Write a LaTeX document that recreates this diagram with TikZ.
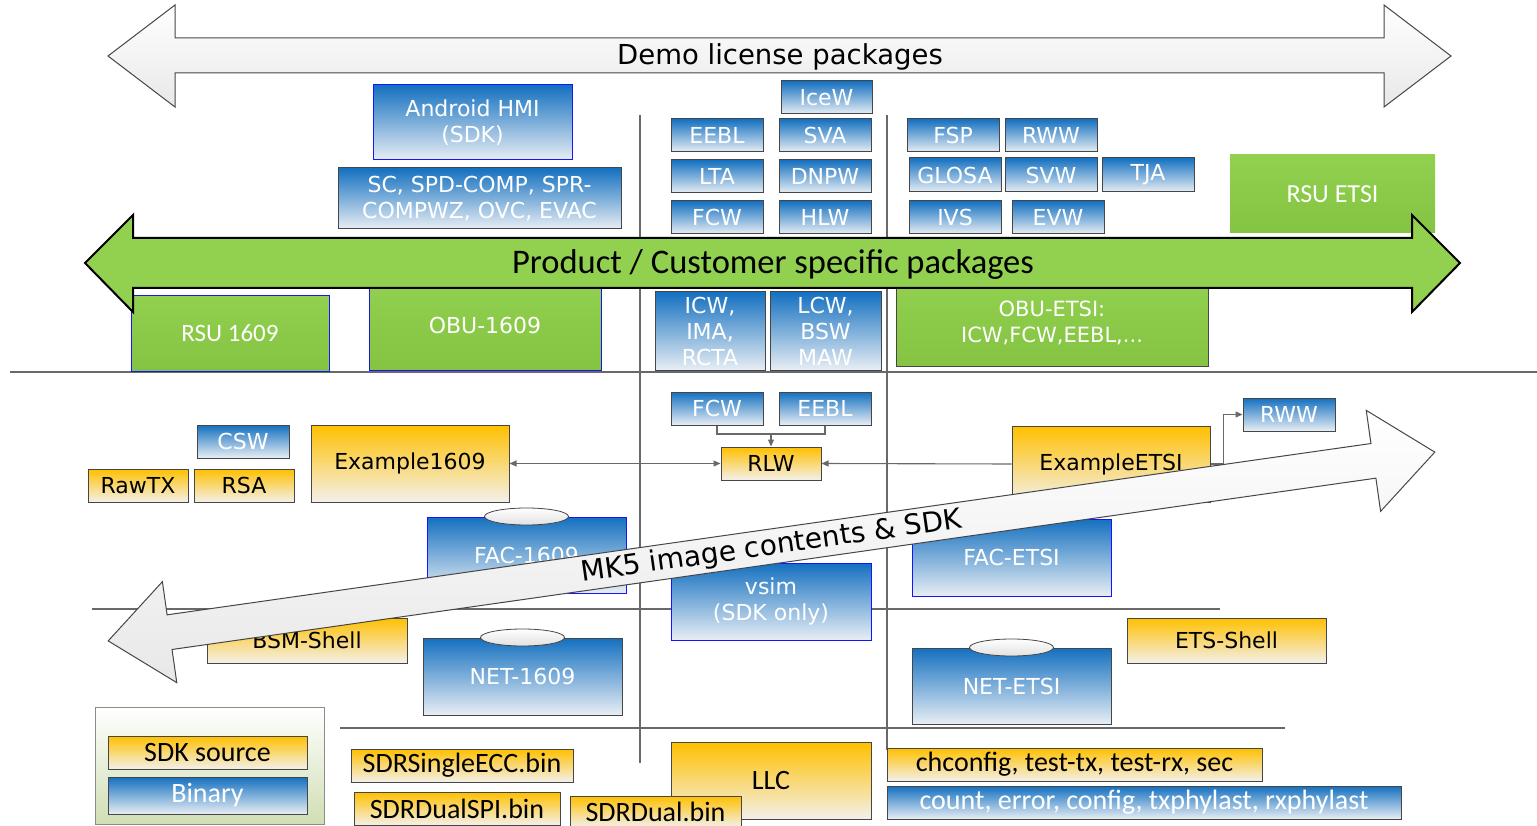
\documentclass[tikz,border=0pt]{standalone}
\usepackage{fontspec}
\setmainfont{DejaVu Sans}
\newfontfamily\calfont{Carlito}
\usetikzlibrary{arrows.meta,shapes.geometric}
\definecolor{bluetop}{RGB}{20,112,192}
\definecolor{bluebot}{RGB}{232,238,244}
\definecolor{orgtop}{RGB}{255,192,0}
\definecolor{orgbot}{RGB}{243,240,234}
\definecolor{grn}{RGB}{146,208,80}
\definecolor{grnbot}{RGB}{132,196,66}
\definecolor{edgec}{RGB}{70,70,70}
\definecolor{bedge}{RGB}{20,20,255}
\definecolor{linec}{RGB}{105,105,105}
\definecolor{legbot}{RGB}{208,222,180}
\newcommand\vfont{\fontsize{22}{26}\selectfont}
\newcommand\cfont{\calfont\fontsize{28}{32}\selectfont}
\begin{document}
\begin{tikzpicture}[x=1pt,y=-1pt,
  pbox/.style={draw=edgec, line width=1pt, inner sep=0pt, align=center, font=\vfont},
  bluebox/.style={pbox, top color=bluetop, bottom color=bluebot, text=white},
  orgbox/.style={pbox, top color=orgtop, bottom color=orgbot, text=black},
  grnbox/.style={pbox, top color=grn, bottom color=grnbot, text=white},
  blueedge/.style={draw=bedge},
  calib/.style={font=\cfont},
  sz/.style 2 args={minimum width=#1pt, minimum height=#2pt},
  divline/.style={draw=linec, line width=1.1pt},
  conn/.style={draw=linec, line width=1.1pt},
  arr/.style={-{Triangle[length=7pt,width=6pt]}},
  lid/.style={ellipse, draw=edgec, line width=0.8pt, top color=white, bottom color=black!12, minimum width=84pt, minimum height=17pt, inner sep=0pt},
  bigarrow/.style={draw=edgec, line width=1pt, top color=white, bottom color=black!9},
]
\useasboundingbox (0,0) rectangle (1537,826);
\clip (0,0) rectangle (1537,826);

% separator lines
\draw[divline] (640,115) -- (640,763);
\draw[divline] (887,115) -- (887,750);
\draw[divline] (10,372) -- (1537,372);
\draw[divline] (92,609) -- (1220,609);
\draw[divline] (340,728) -- (1285,728);

% top arrow
\shade[bigarrow] (108,56) -- (175,5) -- (175,38) -- (1384,38) -- (1384,5) -- (1451,56)
  -- (1384,107) -- (1384,73) -- (175,73) -- (175,107) -- cycle;
\node[font=\fontsize{27.5}{32}\selectfont] (demot) at (780,57) {Demo license packages};

% top section boxes
\node[bluebox, blueedge, sz={199}{75}] (android) at (472.5,122.5) {Android HMI\\(SDK)};
\node[bluebox, sz={283}{61}] (scbox) at (479.5,198.5) {SC, SPD-COMP, SPR-\\COMPWZ, OVC, EVAC};
\node[bluebox, sz={91}{33}] (icew) at (826.5,97.5) {IceW};
\node[bluebox, sz={92}{33}] (eebl) at (717,135.5) {EEBL};
\node[bluebox, sz={92}{33}] (sva) at (825,135.5) {SVA};
\node[bluebox, sz={92}{33}] (lta) at (717,176.5) {LTA};
\node[bluebox, sz={92}{33}] (dnpw) at (825,176.5) {DNPW};
\node[bluebox, sz={92}{33}] (fcw) at (717,217.5) {FCW};
\node[bluebox, sz={92}{33}] (hlw) at (825,217.5) {HLW};
\node[bluebox, sz={92}{33}] (fsp) at (953,135.5) {FSP};
\node[bluebox, sz={92}{33}] (rww) at (1051,135.5) {RWW};
\node[bluebox, sz={92}{34}] (glosa) at (955,175) {GLOSA};
\node[bluebox, sz={92}{34}] (svw) at (1051,175) {SVW};
\node[bluebox, sz={92}{34}] (tja) at (1148,175) {TJA};
\node[bluebox, sz={92}{33}] (ivs) at (955,217.5) {IVS};
\node[bluebox, sz={92}{33}] (evw) at (1058,217.5) {EVW};
\node[grnbox, draw=none, fill=grn, font=\calfont\fontsize{26}{30}\selectfont, sz={205}{78}] (rsuetsi) at (1332.5,194) {RSU ETSI};

% under green arrow
\node[grnbox, blueedge, font=\calfont\fontsize{25}{28}\selectfont, sz={198}{75}] (rsu1609) at (230,333.5) {RSU 1609};
\node[grnbox, blueedge, sz={232}{90}] (obu1609) at (485,325) {OBU-1609};
\node[bluebox, sz={110}{78}] (icw) at (710,331) {ICW,\\IMA,\\RCTA};
\node[bluebox, sz={111}{78}] (lcw) at (825.5,331) {LCW,\\BSW\\MAW};
\node[grnbox, font=\fontsize{21}{26}\selectfont, sz={312}{86}] (obuetsi) at (1052,323) {OBU-ETSI:\\ICW,FCW,EEBL,...};

% middle section
\node[bluebox, sz={92}{33}] (csw) at (243,441.5) {CSW};
\node[orgbox, sz={100}{33}] (rawtx) at (138,485.5) {RawTX};
\node[orgbox, sz={100}{33}] (rsa) at (244,485.5) {RSA};
\node[orgbox, sz={198}{77}] (ex1609) at (410,463.5) {Example1609};
\node[bluebox, sz={92}{33}] (fcwb) at (717,408.5) {FCW};
\node[bluebox, sz={92}{33}] (eeblb) at (825,408.5) {EEBL};
\node[orgbox, sz={100}{33}] (rlw) at (771,463.5) {RLW};
\node[orgbox, sz={198}{76}] (exetsi) at (1111,464) {ExampleETSI};
\node[bluebox, sz={92}{33}] (rwwb) at (1289,414.5) {RWW};
\node[bluebox, blueedge, sz={199}{76}] (fac1609) at (526.5,555) {FAC-1609};
\node[lid] (fac1609lid) at (fac1609.north) {};
\node[bluebox, blueedge, sz={199}{77}] (facetsi) at (1011.5,557.5) {FAC-ETSI};
\node[bluebox, blueedge, sz={200}{77}] (vsim) at (771,601.5) {vsim\\(SDK only)};
\node[orgbox, sz={200}{45}] (bsm) at (307,640.5) {BSM-Shell};
\node[bluebox, sz={199}{77}] (net1609) at (522.5,676.5) {NET-1609};
\node[lid] (net1609lid) at (net1609.north) {};
\node[bluebox, sz={199}{76}] (netetsi) at (1011.5,686) {NET-ETSI};
\node[lid] (netetsilid) at (netetsi.north) {};
\node[orgbox, sz={199}{45}] (etsshell) at (1226.5,640.5) {ETS-Shell};

% connectors
\coordinate (rlwjoin) at (771,434);
\draw[conn] (fcwb.south) |- (rlwjoin);
\draw[conn] (eeblb.south) |- (rlwjoin);
\draw[conn, arr] (rlwjoin) -- (rlw.north);
\draw[conn, {Triangle[length=7pt,width=6pt]}-{Triangle[length=7pt,width=6pt]}] (ex1609.east) -- (rlw.west);
\draw[conn, arr] (exetsi.west) -- (rlw.east);
\draw[conn, arr] (exetsi.east) -- ++(13,0) |- (rwwb.west);

% bottom section
\node[pbox, top color=white, bottom color=legbot, draw=black!45, sz={229}{117}] (legend) at (209.5,765.5) {};
\node[orgbox, calib, sz={199}{33}] (sdksrc) at (207.5,752.5) {SDK source};
\node[bluebox, calib, sz={199}{37}] (binary) at (207.5,795.5) {Binary};
\node[orgbox, calib, sz={222}{33}] (sdrsingle) at (462,765.5) {SDRSingleECC.bin};
\node[orgbox, calib, sz={206}{33}] (sdrdualspi) at (457,808.5) {SDRDualSPI.bin};
\node[orgbox, calib, sz={200}{77}] (llc) at (771,780.5) {LLC};
\node[orgbox, calib, sz={171}{31}] (sdrdual) at (655.5,811.5) {SDRDual.bin};
\node[orgbox, calib, sz={375}{33}] (chconfig) at (1074.5,764.5) {chconfig, test-tx, test-rx, sec};
\node[bluebox, calib, sz={514}{33}] (countbox) at (1144,802.5) {count, error, config, txphylast, rxphylast};

% green arrow
\draw[fill=grn, draw=black, line width=2pt, line join=miter]
  (85,263) -- (133,215) -- (133,238) -- (1412,238) -- (1412,215) -- (1460,263)
  -- (1412,312) -- (1412,288) -- (133,288) -- (133,312) -- cycle;
\node[font=\calfont\fontsize{34.5}{40}\selectfont] (prodt) at (773,264) {Product / Customer specific packages};

% MK5 diagonal arrow
\begin{scope}[shift={(771.5,546.5)}, rotate=8.1]
\shade[bigarrow] (-670,0) -- (-608,-51) -- (-608,-17.5) -- (608,-17.5) -- (608,-51) -- (670,0)
  -- (608,51) -- (608,17.5) -- (-608,17.5) -- (-608,51) -- cycle;
\end{scope}
\node[rotate=8.1, font=\fontsize{28}{32}\selectfont] (mk5t) at (771.5,547) {MK5 image contents \& SDK};
\end{tikzpicture}
\end{document}
